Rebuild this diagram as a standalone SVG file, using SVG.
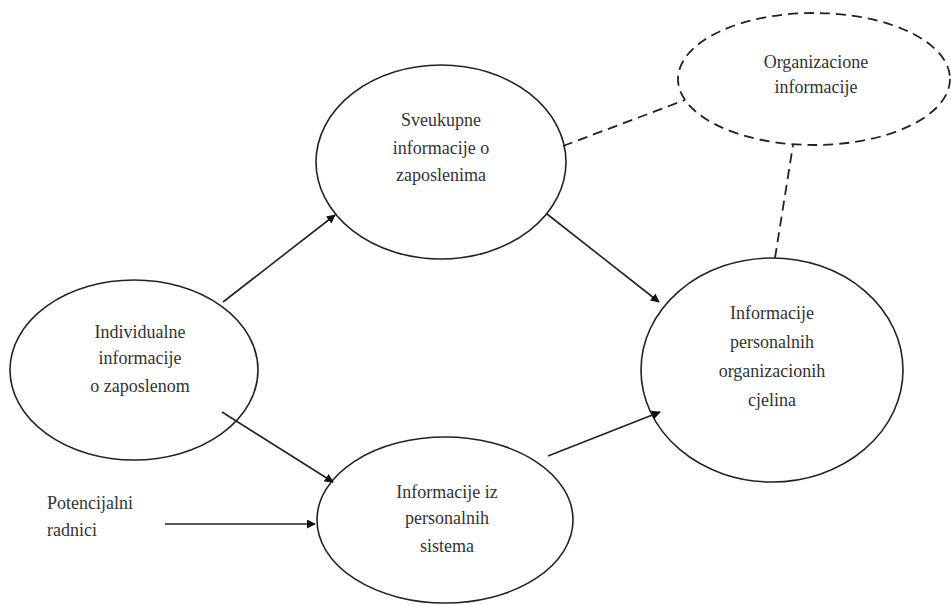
<svg xmlns="http://www.w3.org/2000/svg" width="951" height="605" viewBox="0 0 951 605">
<style>
.n{fill:#fff;stroke:#222;stroke-width:1.6}
.d{fill:#fff;stroke:#222;stroke-width:1.8;stroke-dasharray:10 6}
.t{font-family:'Liberation Serif','DejaVu Serif','Times New Roman',Times,serif;font-size:18px;fill:#333;text-anchor:middle}
.c{stroke:#222;stroke-width:1.6;fill:none}
.cd{stroke:#222;stroke-width:1.8;fill:none;stroke-dasharray:10 6}
</style>
<defs>
<marker id="ah" viewBox="0 0 10 10" refX="9" refY="5" markerWidth="9" markerHeight="9" markerUnits="userSpaceOnUse" orient="auto"><path d="M0,0 L10,5 L0,10 z" fill="#111"/></marker>
</defs>
<rect width="951" height="605" fill="#fff"/>
<g id="org">
<ellipse class="d" cx="814" cy="79" rx="136" ry="66"/>
<text class="t" x="816" y="68">Organizacione</text>
<text class="t" x="816" y="93">informacije</text>
</g>
<g id="sveukupne">
<ellipse class="n" cx="441" cy="162" rx="125" ry="97"/>
<text class="t" x="441" y="126">Sveukupne</text>
<text class="t" x="441" y="154">informacije o</text>
<text class="t" x="441" y="181">zaposlenima</text>
</g>
<g id="individualne">
<ellipse class="n" cx="134" cy="370" rx="124" ry="90"/>
<text class="t" x="140" y="338">Individualne</text>
<text class="t" x="140" y="364">informacije</text>
<text class="t" x="140" y="392">o zaposlenom</text>
</g>
<g id="personalnih">
<ellipse class="n" cx="772" cy="370" rx="131" ry="112"/>
<text class="t" x="772" y="319">Informacije</text>
<text class="t" x="772" y="348">personalnih</text>
<text class="t" x="772" y="377">organizacionih</text>
<text class="t" x="772" y="406">cjelina</text>
</g>
<g id="sistema">
<ellipse class="n" cx="445" cy="520" rx="128" ry="83"/>
<text class="t" x="447" y="498">Informacije iz</text>
<text class="t" x="447" y="524">personalnih</text>
<text class="t" x="447" y="552">sistema</text>
</g>
<g id="potencijalni">
<text class="t" x="47" y="509" style="text-anchor:start">Potencijalni</text>
<text class="t" x="47" y="536" style="text-anchor:start">radnici</text>
</g>
<g id="connectors">
<line class="c" x1="223" y1="302" x2="335" y2="215" marker-end="url(#ah)"/>
<line class="c" x1="547" y1="214" x2="659" y2="302" marker-end="url(#ah)"/>
<line class="c" x1="222" y1="412" x2="333" y2="482" marker-end="url(#ah)"/>
<line class="c" x1="165" y1="524" x2="315" y2="524" marker-end="url(#ah)"/>
<line class="c" x1="548" y1="456" x2="660" y2="412" marker-end="url(#ah)"/>
<line class="cd" x1="563" y1="146" x2="685" y2="100"/>
<line class="cd" x1="775" y1="258" x2="793" y2="145"/>
</g>
</svg>
